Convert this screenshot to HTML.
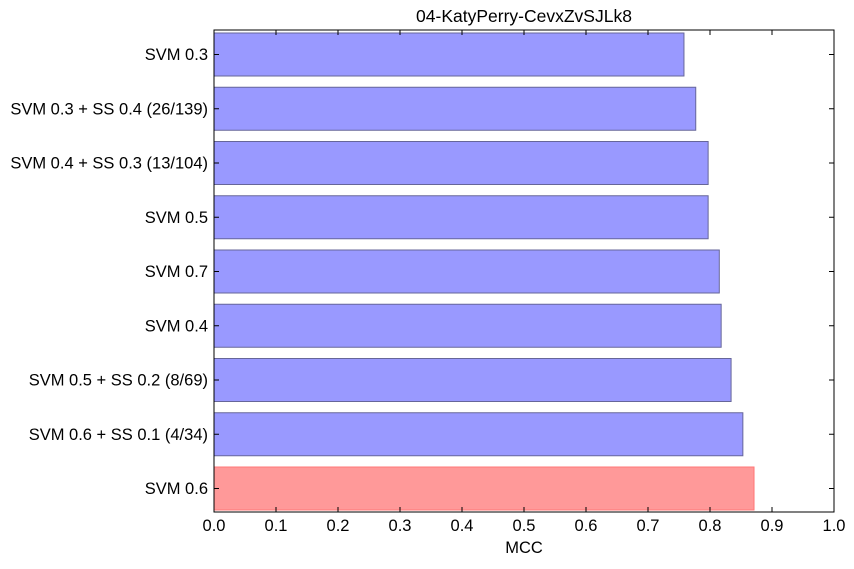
<!DOCTYPE html>
<html><head><meta charset="utf-8">
<style>
body{margin:0;background:#fff;font-family:"Liberation Sans",Arial,sans-serif;}
svg text{font-family:"Liberation Sans",Arial,sans-serif;}
</style></head>
<body>
<svg id="chart" width="854" height="564" xmlns="http://www.w3.org/2000/svg">
<rect width="854" height="564" fill="#fff"/>
<text x="524" y="22" font-size="17.5" text-anchor="middle">04-KatyPerry-CevxZvSJLk8</text>
<g id="bars"></g>
<g id="axes"></g>
<text x="524" y="553" font-size="16.5" text-anchor="middle">MCC</text>
</svg>
<script>
const categories=["SVM 0.3","SVM 0.3 + SS 0.4 (26/139)","SVM 0.4 + SS 0.3 (13/104)","SVM 0.5","SVM 0.7","SVM 0.4","SVM 0.5 + SS 0.2 (8/69)","SVM 0.6 + SS 0.1 (4/34)","SVM 0.6"];
const values=[0.758,0.777,0.797,0.797,0.815,0.818,0.834,0.853,0.871];
const highlight=[false,false,false,false,false,false,false,false,true];
const xTicks=[0,0.1,0.2,0.3,0.4,0.5,0.6,0.7,0.8,0.9,1.0];
const xTickLabels=["0.0","0.1","0.2","0.3","0.4","0.5","0.6","0.7","0.8","0.9","1.0"];

const NS="http://www.w3.org/2000/svg";
const L=214,R=834,T=30,B=512;
const xs=v=>L+v*(R-L);
const step=54.25, top0=33, bh=43;
const ys=i=>top0+step*i+bh/2;
function mk(tag,attrs,parent){const e=document.createElementNS(NS,tag);for(const k in attrs)e.setAttribute(k,attrs[k]);parent.appendChild(e);return e;}
const bars=document.getElementById('bars'),axes=document.getElementById('axes');
categories.forEach((c,i)=>{
  const r=mk('rect',{x:xs(0),y:ys(i)-bh/2,width:xs(values[i])-xs(0),height:bh,
    fill:highlight[i]?'#ff9999':'#9999ff',stroke:highlight[i]?'#ff7777':'#66669a','stroke-width':1},bars);
  
  
  const t=mk('text',{x:L-6,y:ys(i)+5.5,'font-size':16.5,'text-anchor':'end'},axes);
  t.textContent=c;
  
  
  mk('line',{x1:L,x2:L+5,y1:ys(i),y2:ys(i),stroke:'#000'},axes);
  mk('line',{x1:R,x2:R-5,y1:ys(i),y2:ys(i),stroke:'#000'},axes);
});
xTicks.forEach((v,i)=>{
  mk('line',{x1:xs(v),x2:xs(v),y1:B,y2:B-5,stroke:'#000'},axes);
  mk('line',{x1:xs(v),x2:xs(v),y1:T,y2:T+5,stroke:'#000'},axes);
  const t=mk('text',{x:xs(v),y:B+19,'font-size':16.5,'text-anchor':'middle'},axes);
  t.textContent=xTickLabels[i];
  
  
});
const f=mk('rect',{x:L,y:T,width:R-L,height:B-T,fill:'none',stroke:'#000','stroke-width':1},axes);


</script>
</body></html>
